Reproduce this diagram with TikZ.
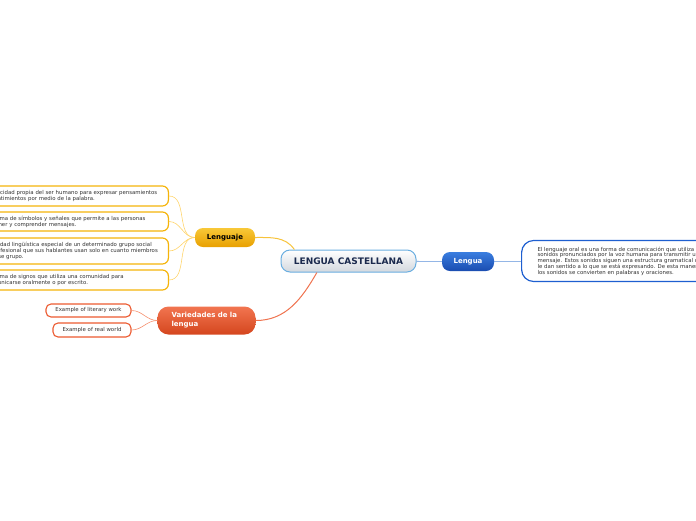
\documentclass[tikz,border=0pt]{standalone}
\usepackage{fontspec}
\setmainfont{DejaVu Sans}
\usetikzlibrary{arrows.meta,positioning,calc}
\definecolor{Ink}{HTML}{1B2A4E}
\definecolor{Leaf}{HTML}{333333}
\definecolor{Gold}{HTML}{F5B40A}
\definecolor{GoldTop}{HTML}{F8C838}
\definecolor{GoldBot}{HTML}{E8A000}
\definecolor{GoldLine}{HTML}{FFD46A}
\definecolor{Coral}{HTML}{EC5A30}
\definecolor{CoralTop}{HTML}{F27550}
\definecolor{CoralBot}{HTML}{D4461E}
\definecolor{CoralLine}{HTML}{F5906E}
\definecolor{Blue}{HTML}{1E5FD0}
\definecolor{BlueTop}{HTML}{3A7EE0}
\definecolor{BlueBot}{HTML}{1A4CB0}
\definecolor{BlueLine}{HTML}{5A8FD8}
\definecolor{Sky}{HTML}{6AAEE0}
\definecolor{Mist}{HTML}{D3D8DE}

\begin{document}
\begin{tikzpicture}[x=1pt,y=-1pt]
\tikzset{centerbox/.style={rounded corners=9pt,draw=Sky,line width=1pt,top color=white,bottom color=Mist,text=Ink,font=\fontsize{9}{10}\selectfont\bfseries,minimum width=135pt,minimum height=22pt},
  mainbox/.style={rounded corners=8pt,text=white,font=\fontsize{7}{8.5}\selectfont\bfseries,inner sep=2pt},
  leafbox/.style={rounded corners=6pt,draw=Gold,line width=1.2pt,fill=white,text=Leaf,align=left,text width=177pt,font=\fontsize{5.4}{5.9}\selectfont,inner xsep=5pt},
  notebox/.style={rounded corners=12pt,draw=Blue,line width=1.2pt,fill=white,text=Leaf,align=left,font=\fontsize{5.4}{5.8}\selectfont,minimum height=41pt,inner xsep=16pt},
  examplebox/.style={rounded corners=5pt,draw=Coral,line width=1.1pt,fill=white,text=Leaf,font=\fontsize{5.4}{6}\selectfont,inner sep=1pt},
  twig/.style={line width=0.6pt}}
\useasboundingbox (0,0) rectangle (696,520);
\clip (0,0) rectangle (696,520);

\node[centerbox] (cen) at (348.5,261) {LENGUA CASTELLANA};
\node[mainbox,top color=BlueTop,bottom color=BlueBot,minimum width=52pt,minimum height=19pt] (lengua) at (468,261.5) {Lengua};
\node[notebox,anchor=west] (oral) at (521,261) {El lenguaje oral es una forma de comunicación que utiliza los\\sonidos pronunciados por la voz humana para transmitir un\\mensaje. Estos sonidos siguen una estructura gramatical que\\le dan sentido a lo que se está expresando. De esta manera\\los sonidos se convierten en palabras y oraciones.};

\node[mainbox,top color=GoldTop,bottom color=GoldBot,text=black,minimum width=60pt,minimum height=19pt] (lenguaje) at (225,237.5) {Lenguaje};
\node[leafbox,anchor=east,minimum height=20pt] (capacidad) at (169,196) {Capacidad propia del ser humano para expresar pensamientos\\y sentimientos por medio de la palabra.};
\node[leafbox,anchor=east,minimum height=19pt] (sistema) at (169,221.5) {Sistema de símbolos y señales que permite a las personas\\obtener y comprender mensajes.};
\node[leafbox,anchor=east,minimum height=26pt] (jerga) at (169,251) {Variedad lingüística especial de un determinado grupo social\\o profesional que sus hablantes usan solo en cuanto miembros\\de ese grupo.};
\node[leafbox,anchor=east,minimum height=20pt] (idioma) at (169,280) {Sistema de signos que utiliza una comunidad para\\comunicarse oralmente o por escrito.};

\node[mainbox,top color=CoralTop,bottom color=CoralBot,rounded corners=11pt,align=left,minimum height=28pt,text width=70pt,inner xsep=14pt,font=\fontsize{7}{9}\selectfont\bfseries] (variedades) at (206.5,320.5) {Variedades de la\\lengua};
\node[examplebox,minimum width=85pt,minimum height=13pt] (literary) at (88.5,310.5) {Example of literary work};
\node[examplebox,minimum width=78pt,minimum height=14pt] (real) at (92,330) {Example of real world};

% connectors
\draw[BlueLine,twig] (cen) -- (lengua);
\draw[BlueLine,twig] (lengua) -- (oral);
\draw[Gold!80,line width=1pt] (lenguaje.east) to[out=0,in=125] (cen.168);
\draw[Coral!85,line width=1pt] (variedades.east) to[out=0,in=240] (cen.200);
\foreach \leaf in {capacidad,sistema,jerga,idioma}
  \draw[GoldLine,twig] (lenguaje.west) to[out=180,in=0] (\leaf.east);
\foreach \leaf in {literary,real}
  \draw[CoralLine,twig] (variedades.west) to[out=180,in=0] (\leaf.east);
\end{tikzpicture}
\end{document}
